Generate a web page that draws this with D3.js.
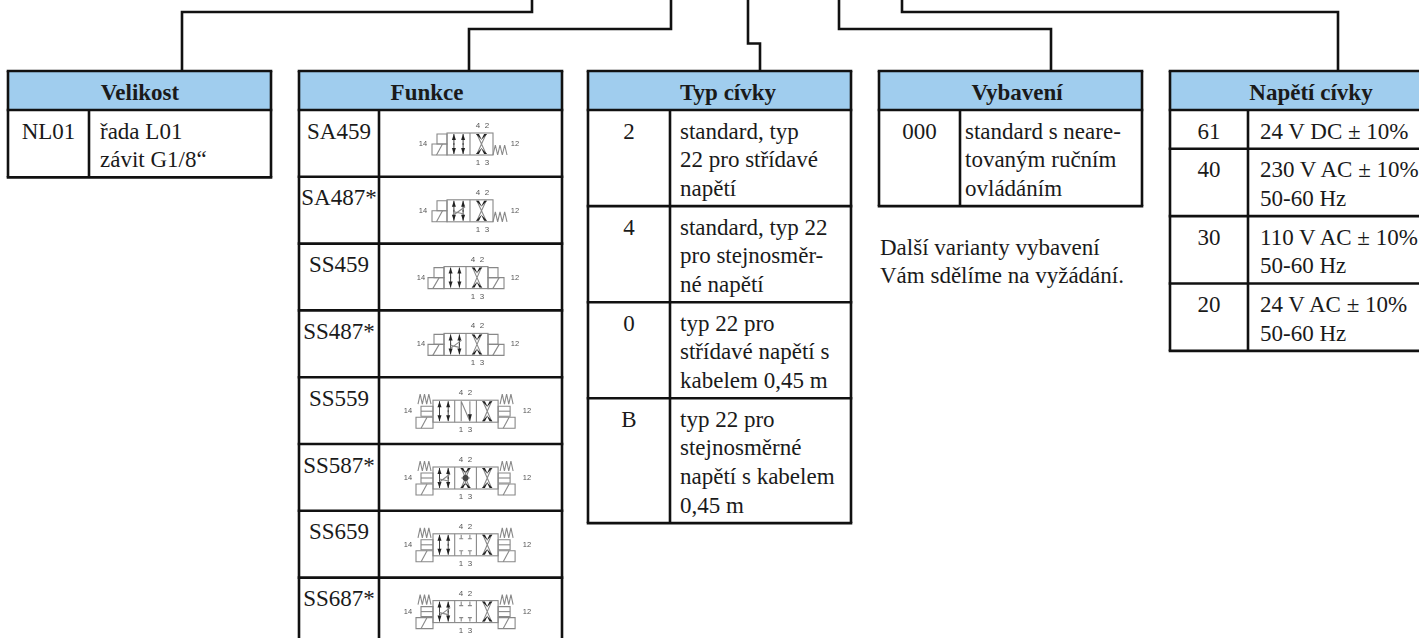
<!DOCTYPE html>
<html>
<head>
<meta charset="utf-8">
<script src="https://cdn.jsdelivr.net/npm/d3@7"></script>
<style>
html, body { margin: 0; padding: 0; background: #fff; overflow: hidden; }
svg { display: block; }
text { font-family: "Liberation Serif", serif; font-size: 23px; fill: #1a1a1a; }
</style>
</head>
<body>
<svg id="chart" width="1419" height="638"></svg>
<script>
// table contents
const velikostCodes = ["NL01"];
const velikostTexts = [["řada L01", "závit G1/8“"]];

const funkceCodes = ["SA459", "SA487*", "SS459", "SS487*", "SS559", "SS587*", "SS659", "SS687*"];
const funkceActuators = ["sa", "sa", "ss", "ss", "long", "long", "long", "long"];
const funkceCells = [
    ["par", "cross"],
    ["parCheck", "cross"],
    ["par", "cross"],
    ["parCheck", "cross"],
    ["par", "nCell", "cross"],
    ["parCheck", "star", "cross"],
    ["par", "closed", "cross"],
    ["parCheck", "closed", "cross"]
];

const typCodes = ["2", "4", "0", "B"];
const typTexts = [
    ["standard, typ", "22 pro střídavé", "napětí"],
    ["standard, typ 22", "pro stejnosměr-", "né napětí"],
    ["typ 22 pro", "střídavé napětí s", "kabelem 0,45 m"],
    ["typ 22 pro", "stejnosměrné", "napětí s kabelem", "0,45 m"]
];

const vybaveniCodes = ["000"];
const vybaveniTexts = [["standard s neare-", "tovaným ručním", "ovládáním"]];
const vybaveniNote = ["Další varianty vybavení", "Vám sdělíme na vyžádání."];

const napetiCodes = ["61", "40", "30", "20"];
const napetiTexts = [
    ["24 V DC ± 10%"],
    ["230 V AC ± 10%", "50-60 Hz"],
    ["110 V AC ± 10%", "50-60 Hz"],
    ["24 V AC ± 10%", "50-60 Hz"]
];

const headerBlue = "#a0cdee";
const ruleWidth = 2.6;
const svg = d3.select("#chart");

var defs = svg.append("defs");
defs.append("filter").attr("id", "soft")
    .append("feGaussianBlur").attr("stdDeviation", 0.6);

// connectors running from the top edge down to each table
const connectors = [
    [[182, 71], [182, 12], [532, 12], [532, 0]],
    [[469, 71], [469, 29], [671, 29], [671, 0]],
    [[748, 0], [748, 43.5], [760, 43.5], [760, 71]],
    [[839, 0], [839, 29], [1051, 29], [1051, 71]],
    [[902, 0], [902, 12], [1338, 12], [1338, 71]]
];
var line = d3.line();
svg.append("g").selectAll("path")
    .data(connectors)
    .join("path")
    .attr("d", d => line(d))
    .attr("fill", "none")
    .attr("stroke", "#111")
    .attr("stroke-width", ruleWidth);

function drawTable(opts)
{
    var g = svg.append("g");
    var top = 71, headBottom = 110;
    var lineScale = d3.scaleLinear().domain([0, 1]).range([0, 28.7]);

    // row edges follow from how many text lines each row holds
    var edges = [headBottom];
    opts.rowLines.forEach(n => {
        edges.push(edges[edges.length - 1] + lineScale(n) + opts.pad);
    });
    var bottom = edges[edges.length - 1];

    g.append("rect")
        .attr("x", opts.left).attr("y", top)
        .attr("width", opts.right - opts.left).attr("height", headBottom - top)
        .attr("fill", headerBlue);

    g.append("text")
        .text(opts.title)
        .attr("x", opts.titleX).attr("y", top + 28.5)
        .attr("text-anchor", "middle")
        .style("font-weight", "bold");

    // horizontal rules
    g.selectAll("line.h")
        .data([top].concat(edges))
        .join("line")
        .attr("x1", opts.left - 1.3).attr("x2", opts.right + 1.3)
        .attr("y1", d => d).attr("y2", d => d)
        .attr("stroke", "#111").attr("stroke-width", ruleWidth);

    // vertical rules
    g.selectAll("line.v")
        .data([[opts.left, top], [opts.right, top], [opts.divider, headBottom]])
        .join("line")
        .attr("x1", d => d[0]).attr("x2", d => d[0])
        .attr("y1", d => d[1]).attr("y2", bottom)
        .attr("stroke", "#111").attr("stroke-width", ruleWidth);

    var rows = g.selectAll("g.row")
        .data(opts.codes)
        .join("g")
        .attr("transform", (d, i) => `translate(0, ${edges[i]})`);

    rows.append("text")
        .text(d => d)
        .attr("x", (opts.left + opts.divider) / 2)
        .attr("y", 28.5)
        .attr("text-anchor", "middle");

    if (opts.texts) {
        rows.each(function(d, i) {
            d3.select(this).selectAll("text.t")
                .data(opts.texts[i])
                .join("text")
                .attr("class", "t")
                .text(t => t)
                .attr("x", opts.divider + opts.textPad)
                .attr("y", (t, j) => 28.5 + lineScale(j));
        });
    }
    return {rows: rows, edges: edges};
}

drawTable({
    title: "Velikost", left: 8, right: 271, divider: 89, titleX: 140, textPad: 11, pad: 10,
    codes: velikostCodes, texts: velikostTexts, rowLines: velikostTexts.map(d => d.length)
});

var funkce = drawTable({
    title: "Funkce", left: 299, right: 562, divider: 379, titleX: 427, textPad: 0, pad: 9.4,
    codes: funkceCodes, rowLines: funkceCodes.map(() => 2)
});

drawTable({
    title: "Typ cívky", left: 588, right: 851, divider: 670, titleX: 728, textPad: 10, pad: 10,
    codes: typCodes, texts: typTexts, rowLines: typTexts.map(d => d.length)
});

drawTable({
    title: "Vybavení", left: 879, right: 1142, divider: 960, titleX: 1017, textPad: 5, pad: 10,
    codes: vybaveniCodes, texts: vybaveniTexts, rowLines: vybaveniTexts.map(d => d.length)
});

drawTable({
    title: "Napětí cívky", left: 1170, right: 1452, divider: 1248, titleX: 1311, textPad: 12, pad: 10,
    codes: napetiCodes, texts: napetiTexts, rowLines: napetiTexts.map(d => d.length)
});

svg.append("g").selectAll("text")
    .data(vybaveniNote)
    .join("text")
    .text(d => d)
    .attr("x", 880)
    .attr("y", (d, i) => 255 + i * 28);

// valve symbols in the Funkce table, grey and a little soft like the scanned original
const grey = "#888";
const symbolLayout = {
    sa: {left: 447, cell: 23, x14: 423, x12: 515, port: 478},
    ss: {left: 444, cell: 22, x14: 421, x12: 515, port: 473},
    long: {left: 433, cell: 21.7, x14: 408, x12: 527, port: 461}
};

function stroke(sel, d)
{
    sel.append("path").attr("d", d).attr("fill", "none")
        .attr("stroke", grey).attr("stroke-width", 1.1);
}

function arrow(sel, x, y1, y2)
{
    sel.append("path").attr("d", `M${x},${y1}V${y2}`)
        .attr("stroke", "#444").attr("stroke-width", 1);
    var dir = y2 > y1 ? 1 : -1;
    sel.append("path")
        .attr("d", `M${x - 2},${y2 - dir * 6}L${x},${y2}L${x + 2},${y2 - dir * 6}Z`)
        .attr("fill", "#222");
}

function drawCell(sel, kind, x, w)
{
    var a = x + w * 0.3, b = x + w * 0.7;
    if (kind == "par" || kind == "parCheck") {
        arrow(sel, a, 12, 1);
        arrow(sel, a, 10, 21);
        arrow(sel, b, 12, 1);
        arrow(sel, b, 10, 21);
        if (kind == "parCheck") {
            stroke(sel, `M${a},15L${b + 2},7M${a},12L${b},14`);
        }
    } else if (kind == "cross" || kind == "star") {
        stroke(sel, `M${a},1L${b},21M${b},1L${a},21`);
        sel.append("path").attr("d", `M${a - 1},21L${a + 5},15L${a + 2},21ZM${b + 1},21L${b - 5},15L${b - 2},21Z`).attr("fill", "#222");
        sel.append("path").attr("d", `M${a - 1},1L${a + 5},7L${a + 2},1ZM${b + 1},1L${b - 5},7L${b - 2},1Z`).attr("fill", "#222");
        if (kind == "star") {
            stroke(sel, `M${a},11H${b}M${x + w / 2},4V18`);
            sel.append("circle").attr("cx", x + w / 2).attr("cy", 11).attr("r", 3).attr("fill", "#444");
        }
    } else if (kind == "nCell") {
        stroke(sel, `M${a},1V21M${a},1L${b},21M${b},1V21`);
        sel.append("path").attr("d", `M${b - 2},14L${b},21L${b + 2},14Z`).attr("fill", "#222");
    } else if (kind == "closed") {
        stroke(sel, `M${a},1V5M${a - 2},5H${a + 2}M${b},1V5M${b - 2},5H${b + 2}`);
        stroke(sel, `M${a},21V17M${a - 2},17H${a + 2}M${b},21V17M${b - 2},17H${b + 2}`);
    }
}

function spring(sel, x, y, w, h)
{
    var step = w / 6, d = `M${x},${y + h}`;
    d3.range(1, 7).forEach(i => {
        d += `L${x + i * step},${i % 2 ? y : y + h}`;
    });
    stroke(sel, d);
}

function actuator(sel, type, x, side, w)
{
    // side -1 grows left of the body, +1 grows right
    var box = (x1, x2, y1, y2) => stroke(sel, `M${x1},${y1}H${x2}V${y2}H${x1}Z`);
    var lo = Math.min(x, x + side * w), hi = Math.max(x, x + side * w);
    if (type == "long") {
        box(lo, hi, 17, 28);
        stroke(sel, `M${lo + w * 0.3},28L${lo + w * 0.65},17`);
        var inner = side < 0 ? hi - 12 : lo;
        box(inner, inner + 12, 6, 16);
        stroke(sel, `M${inner},11H${inner + 12}`);
        spring(sel, side < 0 ? hi - 15 : lo + 2, -6, 13, 10);
    } else {
        box(lo, hi, 11, 22);
        stroke(sel, `M${lo + w * 0.3},22L${lo + w * 0.7},11`);
        var small = side < 0 ? hi - 10 : lo;
        box(small, small + 10, 1, 11);
    }
}

funkce.rows.each(function(d, i) {
    var type = funkceActuators[i];
    var lay = symbolLayout[type];
    var cells = funkceCells[i];
    var wide = cells.length * lay.cell;
    var g = d3.select(this).append("g").attr("filter", "url(#soft)");

    var labels = [["14", lay.x14, 36, 7.5], ["12", lay.x12, 36, 7.5],
        ["4", lay.port, 18, 8], ["2", lay.port + 9, 18, 8],
        ["1", lay.port, 55, 8], ["3", lay.port + 9, 55, 8]];
    g.selectAll("text")
        .data(labels)
        .join("text")
        .text(t => t[0])
        .attr("x", t => t[1])
        .attr("y", t => t[2])
        .attr("text-anchor", "middle")
        .style("font-size", t => t[3] + "px")
        .style("font-family", "'Liberation Sans'")
        .style("fill", "#555");

    var body = g.append("g").attr("transform", `translate(${lay.left}, 23)`);
    body.append("rect")
        .attr("width", wide).attr("height", 22)
        .attr("fill", "none").attr("stroke", grey).attr("stroke-width", 1.1);
    cells.forEach((c, k) => {
        if (k > 0) stroke(body, `M${k * lay.cell},0V22`);
        drawCell(body, c, k * lay.cell, lay.cell);
    });

    if (type == "sa") {
        actuator(body, "sa", 0, -1, 15);
        spring(body, wide, 12, 14, 10);
    } else if (type == "ss") {
        actuator(body, "ss", 0, -1, 16);
        actuator(body, "ss", wide, 1, 16);
    } else {
        actuator(body, "long", 0, -1, 17);
        actuator(body, "long", wide, 1, 17);
    }
});
</script>
</body>
</html>
